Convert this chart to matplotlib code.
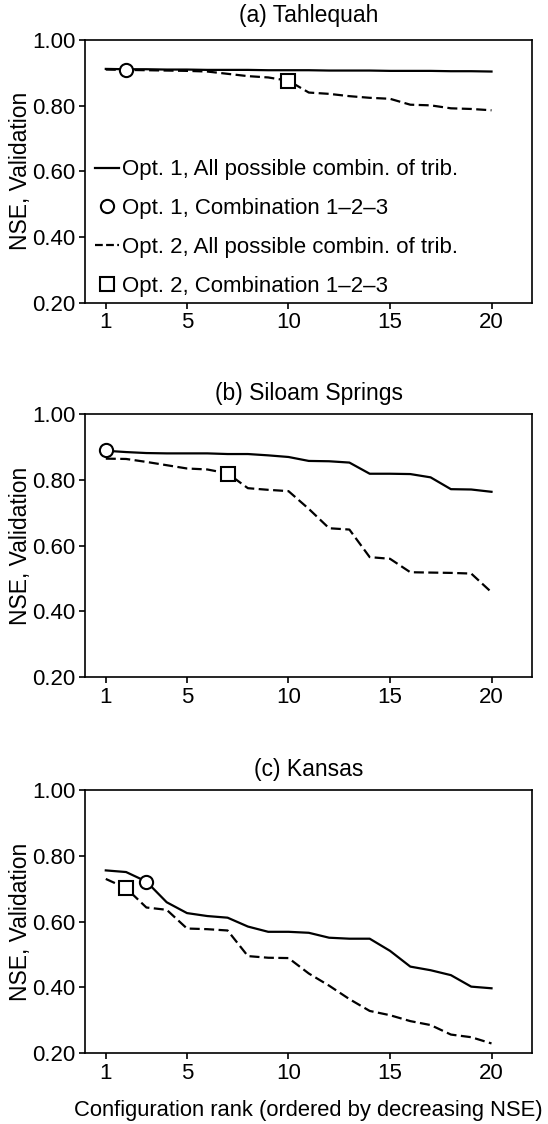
import matplotlib.pyplot as plt
from matplotlib.lines import Line2D

plt.rcParams.update({
    "font.family": ["Liberation Sans", "DejaVu Sans"],
    "font.size": 16,
    "axes.linewidth": 1.2,
})

rank = list(range(1, 21))

# (a) Tahlequah
tah_opt1 = [0.912, 0.911, 0.911, 0.910, 0.910, 0.909, 0.909, 0.909, 0.908, 0.908,
            0.908, 0.907, 0.907, 0.907, 0.906, 0.906, 0.906, 0.905, 0.905, 0.904]
tah_opt2 = [0.910, 0.909, 0.908, 0.907, 0.906, 0.904, 0.897, 0.890, 0.886, 0.876,
            0.840, 0.836, 0.829, 0.824, 0.821, 0.803, 0.801, 0.792, 0.790, 0.786]
tah_c1 = (2, 0.909)
tah_c2 = (10, 0.876)

# (b) Siloam Springs
sil_opt1 = [0.889, 0.885, 0.882, 0.881, 0.881, 0.881, 0.879, 0.879, 0.875, 0.870,
            0.858, 0.857, 0.853, 0.819, 0.819, 0.818, 0.808, 0.772, 0.771, 0.764]
sil_opt2 = [0.865, 0.864, 0.855, 0.845, 0.835, 0.832, 0.820, 0.775, 0.770, 0.766,
            0.712, 0.653, 0.649, 0.565, 0.560, 0.519, 0.518, 0.517, 0.515, 0.458]
sil_c1 = (1, 0.890)
sil_c2 = (7, 0.819)

# (c) Kansas
kan_opt1 = [0.756, 0.751, 0.722, 0.659, 0.626, 0.617, 0.612, 0.585, 0.569, 0.569,
            0.566, 0.551, 0.548, 0.548, 0.511, 0.463, 0.452, 0.437, 0.402, 0.397]
kan_opt2 = [0.730, 0.702, 0.643, 0.636, 0.579, 0.577, 0.573, 0.495, 0.490, 0.489,
            0.442, 0.405, 0.364, 0.328, 0.315, 0.297, 0.285, 0.256, 0.248, 0.229]
kan_c1 = (3, 0.720)
kan_c2 = (2, 0.702)

panels = [
    ("(a) Tahlequah", tah_opt1, tah_opt2, tah_c1, tah_c2),
    ("(b) Siloam Springs", sil_opt1, sil_opt2, sil_c1, sil_c2),
    ("(c) Kansas", kan_opt1, kan_opt2, kan_c1, kan_c2),
]

fig = plt.figure(figsize=(5.48, 11.24), dpi=100)
bottoms = [0.7307, 0.3977, 0.0632]
axes = [fig.add_axes([0.156, b, 0.815, 0.2337]) for b in bottoms]
title_pads = [13, 10, 10]

dash = (0, (4.5, 2))
circ = dict(marker='o', markersize=9.5, markerfacecolor='white',
            markeredgecolor='black', markeredgewidth=1.5, linestyle='none')
sq = dict(marker='s', markersize=10.5, markerfacecolor='white',
          markeredgecolor='black', markeredgewidth=1.5, linestyle='none')

for ax, (title, y1, y2, c1, c2), tp in zip(axes, panels, title_pads):
    ax.plot(rank, y1, color='black', linewidth=1.6, linestyle='-')
    ax.plot(rank, y2, color='black', linewidth=1.6, linestyle=dash)
    ax.plot(*c1, **circ)
    ax.plot(*c2, **sq)
    ax.set_xlim(0, 22)
    ax.set_ylim(0.2, 1.0)
    ax.set_xticks([1, 5, 10, 15, 20])
    ax.set_yticks([0.2, 0.4, 0.6, 0.8, 1.0])
    ax.set_yticklabels(["0.20", "0.40", "0.60", "0.80", "1.00"])
    ax.tick_params(axis='both', direction='out', length=4.5, width=1.2,
                   labelsize=16, pad=2.5)
    ax.set_title(title, fontsize=16.5, pad=tp)
    ax.set_ylabel("NSE, Validation", fontsize=16.5)
    ax.yaxis.set_label_coords(-0.12, 0.5)

axes[2].set_xlabel("Configuration rank (ordered by decreasing NSE)", fontsize=15.8, labelpad=12)

handles = [
    Line2D([], [], color='black', linewidth=1.6, linestyle='-'),
    Line2D([], [], **circ),
    Line2D([], [], color='black', linewidth=1.6, linestyle=(0, (3.5, 1.5))),
    Line2D([], [], **sq),
]
labels = [
    "Opt. 1, All possible combin. of trib.",
    "Opt. 1, Combination 1\u20132\u20133",
    "Opt. 2, All possible combin. of trib.",
    "Opt. 2, Combination 1\u20132\u20133",
]
axes[0].legend(handles, labels, loc='lower left', bbox_to_anchor=(0.0, -0.015),
               frameon=False, fontsize=16, handlelength=1.08, handletextpad=0.1,
               labelspacing=0.8, borderaxespad=0.1, borderpad=0.35)

plt.savefig("out.png", dpi=100)
